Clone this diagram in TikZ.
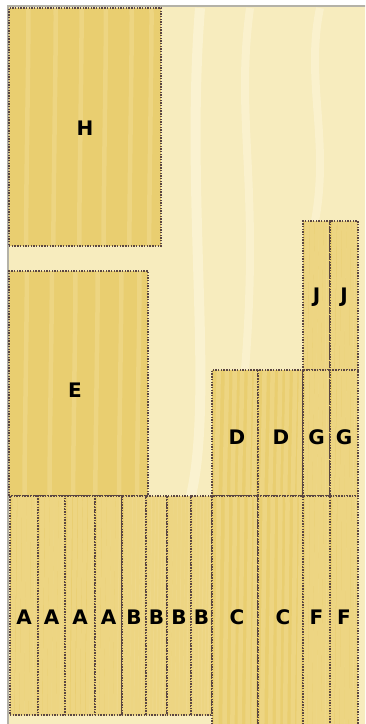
\documentclass[tikz,border=0pt]{standalone}
\usepackage{fontspec}
\setmainfont{DejaVu Sans}
\usepackage{tikz}
\usetikzlibrary{positioning, calc}
\definecolor{boardpale}{HTML}{F7ECBE}
\definecolor{boardstreak}{HTML}{FCF5D8}
\definecolor{piecegold}{HTML}{E9CE70}
\definecolor{piecestreak}{HTML}{F1DC92}
\definecolor{cutbrown}{HTML}{5A4642}
\definecolor{edgegray}{HTML}{B4B2A8}

\begin{document}
\begin{tikzpicture}[
				x=1pt, y=-1pt,
				every node/.style={inner sep=0pt, outer sep=0pt},
				grain/.style={path picture={
						\foreach \f in {0.12,0.3,0.47,0.63,0.8,0.93}
						\draw[piecestreak, solid, line width=4.5pt, opacity=0.55]
						($(path picture bounding box.north west)!\f!(path picture bounding box.north east)$)
						.. controls +(4,-60) and +(-4,60) .. ($(path picture bounding box.south west)!\f!(path picture bounding box.south east)$);
					}},
				piece/.style={draw=cutbrown, fill=piecegold, grain, line width=1.1pt, dash pattern=on 1.4pt off 1.3pt, anchor=north west},
				tag/.style={font=\fontsize{20}{20}\selectfont\bfseries, text=black}
			]
			\clip (0,0) rectangle (365,724);
			\fill[white] (0,0) rectangle (365,724);

			% Board and its edge
			\fill[boardpale] (9,7) rectangle (370,730);
			\draw[boardstreak, line width=10pt, opacity=0.7] (200,8) .. controls (185,200) and (215,400) .. (190,500);
			\draw[boardstreak, line width=8pt, opacity=0.6] (250,8) .. controls (235,120) and (260,180) .. (245,370);
			\draw[boardstreak, line width=8pt, opacity=0.6] (320,8) .. controls (305,80) and (330,140) .. (315,221);
			\draw[edgegray, line width=2pt] (8,730) -- (8,6) -- (370,6);

			% Upper pieces
			\node[piece, minimum width=152, minimum height=238] (h) at (9,8) {};
			\node[piece, minimum width=139, minimum height=225] (e) at (9,271) {};

			% Right stack
			\node[piece, minimum width=27, minimum height=149] (j1) at (303,221) {};
			\node[piece, minimum width=28, minimum height=149] (j2) at (330,221) {};
			\node[piece, minimum width=46, minimum height=126] (d1) at (212,370) {};
			\node[piece, minimum width=45, minimum height=126] (d2) at (258,370) {};
			\node[piece, minimum width=27, minimum height=126] (g1) at (303,370) {};
			\node[piece, minimum width=28, minimum height=126] (g2) at (330,370) {};

			% Bottom row
			\node[piece, minimum width=28, minimum height=219] (a1) at (10,496) {};
			\node[piece, minimum width=27, minimum height=219] (a2) at (38,496) {};
			\node[piece, minimum width=30, minimum height=219] (a3) at (65,496) {};
			\node[piece, minimum width=27, minimum height=219] (a4) at (95,496) {};
			\node[piece, minimum width=24, minimum height=219] (b1) at (122,496) {};
			\node[piece, minimum width=21, minimum height=219] (b2) at (146,496) {};
			\node[piece, minimum width=24, minimum height=219] (b3) at (167,496) {};
			\node[piece, minimum width=21, minimum height=219] (b4) at (191,496) {};
			\node[piece, minimum width=46, minimum height=240] (c1) at (212,496) {};
			\node[piece, minimum width=45, minimum height=240] (c2) at (258,496) {};
			\node[piece, minimum width=27, minimum height=240] (f1) at (303,496) {};
			\node[piece, minimum width=28, minimum height=240] (f2) at (330,496) {};

			% Labels
			\coordinate (row) at (0,617);
			\node[tag] at (85,128) {H};
			\node[tag] at (75,390) {E};
			\node[tag] at (j1 |- 0,297) {J};
			\node[tag] at (j2 |- 0,297) {J};
			\node[tag] at (237,437) {D};
			\node[tag] at (281,437) {D};
			\node[tag] at (g1 |- 0,437) {G};
			\node[tag] at (g2 |- 0,437) {G};
			\node[tag] at (a1 |- row) {A};
			\node[tag] at (a2 |- row) {A};
			\node[tag] at (a3 |- row) {A};
			\node[tag] at (a4 |- row) {A};
			\node[tag] at (b1 |- row) {B};
			\node[tag] at (b2 |- row) {B};
			\node[tag] at (b3 |- row) {B};
			\node[tag] at (b4 |- row) {B};
			\node[tag] at (237,617) {C};
			\node[tag] at (283,617) {C};
			\node[tag] at (f1 |- row) {F};
			\node[tag] at (f2 |- row) {F};
		\end{tikzpicture}
\end{document}
